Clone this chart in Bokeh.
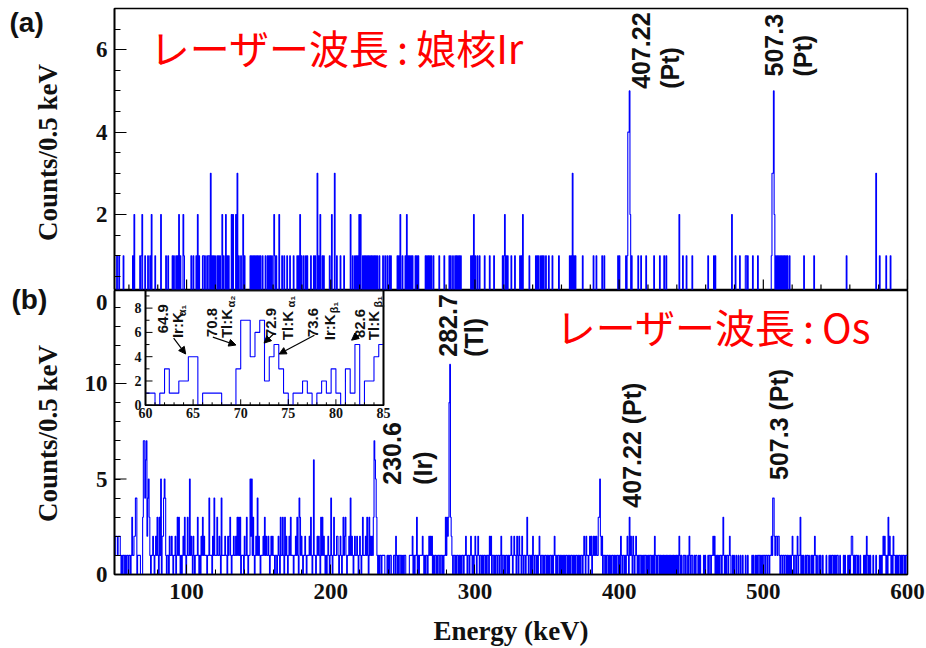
import numpy as np
from bokeh.plotting import figure
from bokeh.layouts import column, row
from bokeh.models import Range1d, FixedTicker, Label, Arrow, NormalHead
from bokeh.core.properties import value
from bokeh.embed import file_html
from bokeh.resources import INLINE

# ---------------------------------------------------------------- binning
E_MIN, E_MAX, BIN = 50.0, 600.0, 0.5
N_BINS = int(round((E_MAX - E_MIN) / BIN))
EDGES = E_MIN + BIN * np.arange(N_BINS + 1)

BLUE = "#0000ff"
SERIF = "Liberation Serif"
SANS = "Liberation Sans"
CJK = "Noto Sans CJK JP"
INK = "#111111"

# ---------------------------------------------------------------- panel (a): laser tuned to daughter Ir
# energies (keV) of bins holding 1, 2 and 3 counts
a_one = [51.9, 53.2, 56.0, 62.5, 67.6, 68.5, 71.3, 73.1, 74.5, 78.0, 85.6, 87.0,
         90.3, 91.3, 92.5, 93.5, 95.5, 98.2, 103.2, 104.6, 106.5, 108.6, 111.0,
         111.8, 112.5, 114.4, 115.0, 115.8, 117.8, 118.6, 119.9, 121.3, 122.0,
         123.0, 125.9, 128.2, 129.2, 136.3, 137.5, 140.3, 144.0, 145.0, 146.0,
         147.0, 148.0, 149.0, 150.0, 151.0, 152.6, 154.9, 156.0, 157.2, 158.0,
         159.0, 161.1, 162.0, 166.4, 167.6, 169.9, 171.5, 174.1, 176.9, 177.8,
         179.5, 181.0, 182.6, 183.8, 186.1, 188.4, 189.4, 191.9, 194.2, 195.4,
         199.3, 204.2, 206.9, 209.2, 215.3, 216.5, 217.5, 218.5, 222.0, 223.1,
         224.0, 225.0, 226.0, 227.0, 228.0, 229.0, 230.0, 231.0, 232.0, 233.5,
         236.3, 237.7, 239.4, 240.5, 241.7, 246.3, 247.4, 249.8, 251.6, 253.9,
         254.6, 255.5, 256.7, 258.5, 259.5, 260.9, 265.5, 266.5, 267.5, 268.5,
         269.5, 271.0, 275.2, 278.7, 282.2, 283.3, 284.5, 286.3, 287.3, 288.3,
         289.3, 290.3, 297.2, 298.2, 300.2, 301.9, 303.0, 306.5, 310.0, 313.4,
         319.2, 320.0, 321.7, 322.7, 325.0, 327.9, 331.3, 332.2, 337.7, 342.4,
         343.3, 344.2, 345.8, 346.8, 347.8, 349.3, 351.2, 353.5, 358.1, 365.5,
         366.5, 368.6, 369.6, 374.7, 382.1, 384.0, 388.2, 389.8, 399.1, 400.2,
         404.9, 405.5, 408.5, 413.0, 415.3, 418.8, 424.1, 428.0, 431.0, 432.6,
         444.2, 446.5, 450.5, 461.5, 465.7, 466.7, 480.6, 483.8, 487.5, 488.4,
         489.4, 492.8, 496.3, 505.5, 508.5, 509.5, 510.5, 511.5, 512.5, 513.5,
         514.5, 515.5, 516.5, 518.3, 528.2, 535.2, 557.6, 580.8, 585.4, 588.4]
a_two = [63.5, 69.0, 75.5, 82.0, 94.7, 97.7, 107.9, 124.8, 127.1, 131.0, 132.4,
         134.0, 139.4, 160.6, 164.1, 178.7, 192.6, 200.5, 213.9, 219.7, 220.8,
         248.1, 252.6, 299.0, 320.8, 333.1, 441.9, 478.2]
a_three = [116.7, 135.2, 190.8, 202.8, 367.8, 578.0]
# Pt lines at 407.22 and 507.3 keV
a_peak_energy = [406.0, 406.5, 407.0, 407.5, 506.0, 506.5, 507.0, 507.5]
a_peak_counts = [4, 4, 5, 2, 3, 3, 5, 2]

# ---------------------------------------------------------------- panel (b): laser tuned to Os
# each row: 50 bins of 0.5 keV from its start energy (hex digit per bin)
b_row_start = [50, 75, 100, 125, 150, 175, 200, 225, 250, 275, 300,
               325, 350, 375, 400, 425, 450, 475, 500, 525, 550, 575]
b_rows = [
    "1222122210 1011010110 1101311224 4011110003 7746724531",
    "0112101213 1031502245 4101102112 1011201313 1010121310",
    "1311512102 1011131010 2131211101 1411102141 1131121041",
    "1112110212 3101121121 3131301110 2113101152 5131012141",
    "2101112131 2112101212 1101101210 3113103121 0121311101",
    "1213104312 1011210111 2131016110 1212103131 2101012101",
    "4101311122 1012101312 3101121412 1012112101 2101311121",
    "3103121213 7653101011 0111100010 1011000110 2101011010",
    "1011000001 1112010113 0101111210 1011012121 2010110101",
    "1011010113 13239b3210 1101011010 1011011210 1101210101",
    "2101210110 1011010110 2120110101 1011012011 0101101011",
    "2101211021 0211021011 0131011010 2101101012 1011010110",
    "1010110101 2101011010 1010101101 0101101010 1101010110",
    "1210211012 1201212121 1335212011 0101101010 1101010110",
    "1021011010 1210312102 1012101011 0101011010 1011010102",
    "1010110101 0101010101 0101010101 0102101001 1010010210",
    "1100101100 1010000101 0001011011 2120101010 1101310101",
    "1012100101 0010010010 0100010010 0000101001 0101101010",
    "1101101101 1214421221 2210110110 1101010101 2101101201",
    "1301010010 1101001010 1210100101 0010000100 0101011010",
    "1011001000 0101000101 0122101011 0100100001 0102101010",
    "0010001000 0101012121 0103121010 2110101011 0101101011",
]

# ---------------------------------------------------------------- inset: 60-85 keV of panel (b)
inset_start, inset_end = 60.0, 85.0
inset_counts = [1, 1, 0, 1, 3, 1, 1, 2, 2, 4, 4, 0, 1, 1, 1, 1, 0, 0, 0, 3,
                7, 7, 4, 6, 7, 2, 4, 5, 3, 1, 0, 1, 1, 2, 1, 0, 1, 2, 1, 3,
                1, 0, 3, 1, 5, 0, 2, 2, 4, 5]
inset_y_max = 9.45
inset_y_ticks = [0, 2, 4, 6, 8]
inset_x_ticks = [60, 65, 70, 75, 80, 85]


def bin_index(e):
    return int(np.floor((e - E_MIN) / BIN + 1e-9))


def panel_a_counts():
    c = np.zeros(N_BINS)
    for n, energies in ((1, a_one), (2, a_two), (3, a_three)):
        for e in energies:
            c[bin_index(e)] = max(c[bin_index(e)], n)
    for e, n in zip(a_peak_energy, a_peak_counts):
        c[bin_index(e)] = n
    return c


def panel_b_counts():
    c = np.zeros(N_BINS)
    for start, r in zip(b_row_start, b_rows):
        i0 = bin_index(start)
        for k, ch in enumerate(r.replace(" ", "")):
            c[i0 + k] = int(ch, 16)
    return c


def draw_hist(p, edges, counts, **kw):
    p.step(x=edges, y=np.append(counts, counts[-1]), mode="after",
           line_color=BLUE, line_width=1.1, **kw)


def style_frame(p):
    p.background_fill_color = "white"
    p.border_fill_color = "white"
    p.outline_line_color = "black"
    p.outline_line_width = 1.6
    p.xgrid.visible = False
    p.ygrid.visible = False


def style_yaxis(p, ticks, minor, major_in=12):
    ax = p.yaxis[0]
    ax.ticker = FixedTicker(ticks=ticks, minor_ticks=minor)
    ax.major_tick_in, ax.major_tick_out = major_in, 0
    ax.minor_tick_in, ax.minor_tick_out = 6, 0
    ax.axis_line_width = 1.6
    ax.major_label_text_font = SERIF
    ax.major_label_text_font_style = "bold"
    ax.major_label_text_font_size = "23px"
    ax.major_label_text_color = INK
    ax.major_label_standoff = 7
    return ax


def rotated(p, x, y, text, size="25px", **kw):
    p.add_layout(Label(x=x, y=y, text=text, angle=90, angle_units="deg",
                       text_align="left", text_baseline="middle",
                       text_font=SANS, text_font_style="bold",
                       text_font_size=size, text_color=INK, **kw))


x_major = [100, 200, 300, 400, 500, 600]
x_minor = [e for e in range(60, 600, 20) if e % 100]

STRIP_W = 66
MAIN_W = 926 - STRIP_W

# ================================================================ panel (a)
pa = figure(width=MAIN_W, height=290, x_range=Range1d(E_MIN, E_MAX),
            y_range=Range1d(0.18, 7.0), output_backend="svg",
            toolbar_location=None, x_axis_location=None,
            min_border_left=114 - STRIP_W, min_border_right=19,
            min_border_top=8, min_border_bottom=1)
style_frame(pa)
style_yaxis(pa, [2, 4, 6], list(np.arange(0.5, 7.0, 0.5)))
draw_hist(pa, EDGES, panel_a_counts())
pa.ray(x=x_major, y=[0.18] * len(x_major), length=10, length_units="screen",
       angle=90, angle_units="deg", line_color="black", line_width=1.2)
pa.ray(x=x_minor, y=[0.18] * len(x_minor), length=5, length_units="screen",
       angle=90, angle_units="deg", line_color="black", line_width=1.2)

pa.add_layout(Label(x=74.5, y=6.07, text="レーザー波長\u2009:\u2009娘核Ir",
                    text_font=CJK, text_font_size="40px", text_color="#ff0000",
                    text_align="left", text_baseline="middle"))
rotated(pa, 415.3, 5.05, "407.22")
rotated(pa, 435.4, 5.05, "(Pt)")
rotated(pa, 507.3, 5.35, "507.3")
rotated(pa, 527.4, 5.35, "(Pt)")

# ================================================================ panel (b)
B_TOP = 14.87
A_ZERO = 14.22   # where the zero of panel (a) is labelled on this panel's scale
pb = figure(width=MAIN_W, height=358, x_range=Range1d(E_MIN, E_MAX),
            y_range=Range1d(0, B_TOP), output_backend="svg",
            toolbar_location=None,
            min_border_left=114 - STRIP_W, min_border_right=19,
            min_border_top=0, min_border_bottom=71)
style_frame(pb)
b_major = [0, 5, 10]
yb = style_yaxis(pb, b_major + [A_ZERO], list(range(0, 15)), major_in=0)
yb.major_label_overrides = {A_ZERO: "0"}
pb.ray(x=[E_MIN] * len(b_major), y=b_major, length=12, length_units="screen",
       angle=0, line_color="black", line_width=1.2)

xa = pb.xaxis[0]
xa.ticker = FixedTicker(ticks=x_major, minor_ticks=x_minor)
xa.major_tick_in, xa.major_tick_out = 10, 0
xa.minor_tick_in, xa.minor_tick_out = 5, 0
xa.axis_line_width = 1.6
xa.major_label_text_font = SERIF
xa.major_label_text_font_style = "bold"
xa.major_label_text_font_size = "23px"
xa.major_label_text_color = INK
xa.major_label_standoff = 9
xa.axis_label = "Energy (keV)"
xa.axis_label_text_font = SERIF
xa.axis_label_text_font_style = "bold"
xa.axis_label_text_font_size = "27px"
xa.axis_label_text_color = INK
xa.axis_label_standoff = 14

draw_hist(pb, EDGES, panel_b_counts())

pb.add_layout(Label(x=356.0, y=13.03, text="レーザー波長\u2009:\u2009Os",
                    text_font=CJK, text_font_size="40px", text_color="#ff0000",
                    text_align="left", text_baseline="middle"))
rotated(pb, 281.3, 11.4, "282.7")
rotated(pb, 299.3, 11.4, "(Tl)")
rotated(pb, 242.4, 4.7, "230.6")
rotated(pb, 263.9, 4.7, "(Ir)")
rotated(pb, 409.0, 3.5, "407.22 (Pt)")
rotated(pb, 510.8, 4.95, "507.3 (Pt)")

# ---------------------------------------------------------------- inset ranges
FRAME_W = MAIN_W - (114 - STRIP_W) - 19
FRAME_H = 358 - 71
box_left_px, box_right_px, box_bottom_px = 31, 269, 116
kx = (box_right_px - box_left_px) / (inset_end - inset_start)
ky = box_bottom_px / inset_y_max
ix0 = inset_start - box_left_px / kx
iy1 = inset_y_max
iy0 = iy1 - FRAME_H / ky
pb.extra_x_ranges = {"inset": Range1d(ix0, ix0 + FRAME_W / kx)}
pb.extra_y_ranges = {"inset": Range1d(iy0, iy1)}
IN = dict(x_range_name="inset", y_range_name="inset")

pb.quad(left=inset_start, right=inset_end, bottom=0, top=inset_y_max,
        fill_color="white", line_color="black", line_width=1.6, **IN)
inset_edges = inset_start + BIN * np.arange(len(inset_counts) + 1)
draw_hist(pb, inset_edges, np.array(inset_counts, dtype=float), **IN)
pb.quad(left=inset_start, right=inset_end, bottom=0, top=inset_y_max,
        fill_color=None, line_color="black", line_width=1.6, **IN)

iy_minor = [v for v in range(1, 10) if v % 2]
pb.ray(x=[inset_start] * len(inset_y_ticks), y=inset_y_ticks, length=7,
       length_units="screen", angle=0, line_color="black", line_width=1, **IN)
pb.ray(x=[inset_start] * len(iy_minor), y=iy_minor, length=4,
       length_units="screen", angle=0, line_color="black", line_width=1, **IN)
ix_minor = [v for v in range(61, 85) if v % 5]
pb.ray(x=inset_x_ticks, y=[0] * len(inset_x_ticks), length=6,
       length_units="screen", angle=90, angle_units="deg",
       line_color="black", line_width=1, **IN)
pb.ray(x=ix_minor, y=[0] * len(ix_minor), length=3, length_units="screen",
       angle=90, angle_units="deg", line_color="black", line_width=1, **IN)

pb.text(x=[inset_start] * len(inset_y_ticks), y=inset_y_ticks,
        text=[str(v) for v in inset_y_ticks], x_offset=-4,
        text_align="right", text_baseline="middle",
        text_font=value(SERIF), text_font_style="bold",
        text_font_size="14px", text_color=INK, **IN)
pb.text(x=inset_x_ticks, y=[0] * len(inset_x_ticks),
        text=[str(v) for v in inset_x_ticks], y_offset=3,
        text_align="center", text_baseline="top",
        text_font=value(SERIF), text_font_style="bold",
        text_font_size="14px", text_color=INK, **IN)

# x-ray line labels in the inset
line_labels = [
    (61.85, 5.93, "64.9"), (63.38, 5.53, "Ir:K"),
    (66.97, 5.61, "70.8"), (68.55, 5.53, "Tl:K"),
    (73.20, 5.61, "72.9"), (74.89, 5.36, "Tl:K"),
    (77.63, 5.61, "73.6"), (79.32, 5.36, "Ir:K"),
    (82.49, 5.53, "82.6"), (83.97, 5.36, "Tl:K"),
]
for x, y, t in line_labels:
    rotated(pb, x, y, t, size="15px", **IN)
subscripts = [(63.80, 7.32, "α₁"), (68.98, 8.06, "α₂"), (75.31, 8.06, "α₁"),
              (79.75, 7.57, "β₁"), (84.39, 8.06, "β₁")]
for x, y, t in subscripts:
    rotated(pb, x, y, t, size="11px", **IN)

arrows = [((62.96, 5.53), (64.22, 4.22)), ((67.07, 5.61), (69.5, 4.96)),
          ((73.52, 5.93), (72.46, 5.12)), ((77.74, 5.77), (74.04, 4.22)),
          ((82.17, 5.69), (81.65, 5.36))]
for (xs, ys), (xe, ye) in arrows:
    pb.add_layout(Arrow(x_start=xs, y_start=ys, x_end=xe, y_end=ye,
                        line_color="black", line_width=1.2,
                        end=NormalHead(size=7, fill_color="black",
                                       line_color="black"), **IN))

# ================================================================ left strip: panel tags and y titles
strip = figure(width=STRIP_W, height=648, x_range=Range1d(0, STRIP_W),
               y_range=Range1d(648, 0), output_backend="svg",
               toolbar_location=None, x_axis_location=None,
               y_axis_location=None, min_border=0)
strip.outline_line_color = None
strip.xgrid.visible = False
strip.ygrid.visible = False
strip.background_fill_color = "white"
strip.border_fill_color = "white"
strip.text(x=[9, 11], y=[22, 299], text=["(a)", "(b)"],
           text_align="left", text_baseline="middle",
           text_font=value(SANS), text_font_style="bold",
           text_font_size="28px", text_color=INK)
strip.text(x=[47, 47], y=[152, 433], text=["Counts/0.5 keV"] * 2,
           angle=90, angle_units="deg",
           text_align="center", text_baseline="middle",
           text_font=value(SERIF), text_font_style="bold",
           text_font_size="27px", text_color=INK)

layout = row(strip, column(pa, pb, spacing=0), spacing=0)
open("out.html", "w").write(file_html(layout, INLINE))
